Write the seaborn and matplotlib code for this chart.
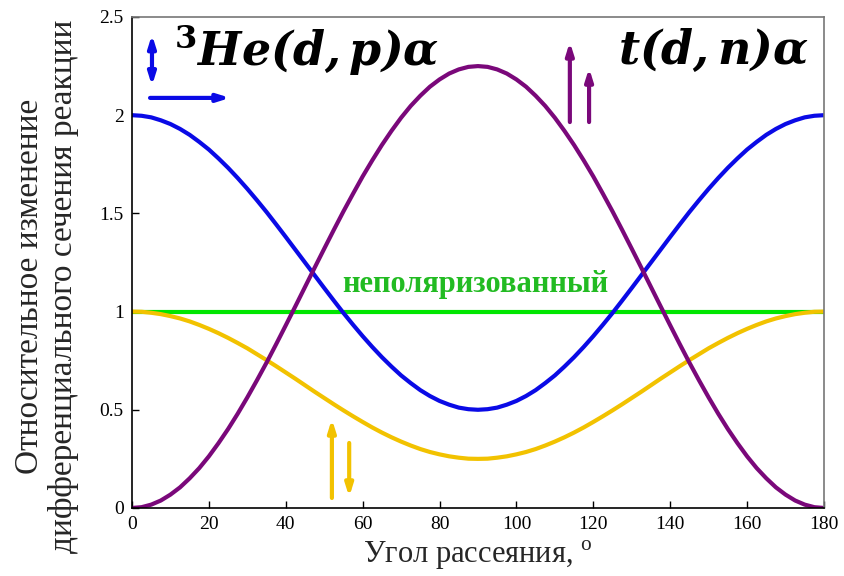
import numpy as np
import pandas as pd
import matplotlib
matplotlib.use("Agg")
import matplotlib.pyplot as plt
import seaborn as sns

angle = [0, 2.5, 5, 7.5, 10, 12.5, 15, 17.5, 20, 22.5, 25, 27.5, 30, 32.5, 35, 37.5, 40, 42.5,
         45, 47.5, 50, 52.5, 55, 57.5, 60, 62.5, 65, 67.5, 70, 72.5, 75, 77.5, 80, 82.5, 85, 87.5,
         90, 92.5, 95, 97.5, 100, 102.5, 105, 107.5, 110, 112.5, 115, 117.5, 120, 122.5, 125, 127.5,
         130, 132.5, 135, 137.5, 140, 142.5, 145, 147.5, 150, 152.5, 155, 157.5, 160, 162.5, 165,
         167.5, 170, 172.5, 175, 177.5, 180]
he3_transverse = [2.000, 1.997, 1.989, 1.974, 1.955, 1.930, 1.900, 1.864, 1.825, 1.780, 1.732, 1.680,
                  1.625, 1.567, 1.507, 1.444, 1.380, 1.315, 1.250, 1.185, 1.120, 1.056, 0.993, 0.933,
                  0.875, 0.820, 0.768, 0.720, 0.675, 0.636, 0.600, 0.570, 0.545, 0.526, 0.511, 0.503,
                  0.500,
                  0.503, 0.511, 0.526, 0.545, 0.570, 0.600, 0.636, 0.675, 0.720, 0.768, 0.820, 0.875,
                  0.933, 0.993, 1.056, 1.120, 1.185, 1.250, 1.315, 1.380, 1.444, 1.507, 1.567, 1.625,
                  1.680, 1.732, 1.780, 1.825, 1.864, 1.900, 1.930, 1.955, 1.974, 1.989, 1.997, 2.000]
t_parallel = [0.000, 0.004, 0.017, 0.038, 0.068, 0.105, 0.151, 0.203, 0.263, 0.330, 0.402, 0.480,
              0.563, 0.650, 0.740, 0.834, 0.930, 1.027, 1.125, 1.223, 1.320, 1.416, 1.510, 1.600,
              1.688, 1.770, 1.848, 1.920, 1.987, 2.047, 2.099, 2.145, 2.182, 2.212, 2.233, 2.246,
              2.250,
              2.246, 2.233, 2.212, 2.182, 2.145, 2.099, 2.047, 1.987, 1.920, 1.848, 1.770, 1.688,
              1.600, 1.510, 1.416, 1.320, 1.223, 1.125, 1.027, 0.930, 0.834, 0.740, 0.650, 0.563,
              0.480, 0.402, 0.330, 0.263, 0.203, 0.151, 0.105, 0.068, 0.038, 0.017, 0.004, 0.000]
antiparallel = [1.000, 0.999, 0.994, 0.987, 0.977, 0.965, 0.950, 0.932, 0.912, 0.890, 0.866, 0.840,
                0.813, 0.783, 0.753, 0.722, 0.690, 0.658, 0.625, 0.592, 0.560, 0.528, 0.497, 0.467,
                0.438, 0.410, 0.384, 0.360, 0.338, 0.318, 0.300, 0.285, 0.273, 0.263, 0.256, 0.251,
                0.250,
                0.251, 0.256, 0.263, 0.273, 0.285, 0.300, 0.318, 0.338, 0.360, 0.384, 0.410, 0.438,
                0.467, 0.497, 0.528, 0.560, 0.592, 0.625, 0.658, 0.690, 0.722, 0.753, 0.783, 0.813,
                0.840, 0.866, 0.890, 0.912, 0.932, 0.950, 0.965, 0.977, 0.987, 0.994, 0.999, 1.000]
unpolarized = [1.0] * len(angle)

series_names = ["unpolarized", "antiparallel", "he3", "t"]
series_colors = {"unpolarized": "#00e600", "antiparallel": "#f2c200",
                 "he3": "#0a0ae6", "t": "#7a087a"}

xticks = [0, 20, 40, 60, 80, 100, 120, 140, 160, 180]
yticks = [0, 0.5, 1, 1.5, 2, 2.5]
ytick_labels = ["0", "0.5", "1", "1.5", "2", "2.5"]

df = pd.DataFrame({
    "angle": angle * 4,
    "value": unpolarized + antiparallel + he3_transverse + t_parallel,
    "series": sum([[s] * len(angle) for s in series_names], []),
})

sns.set_style("ticks")
plt.rcParams["font.family"] = ["Liberation Serif", "DejaVu Serif"]
plt.rcParams["mathtext.fontset"] = "dejavuserif"

fig = plt.figure(figsize=(8.45, 5.76), dpi=100)
ax = fig.add_axes([0.1562, 0.1181, 0.8189, 0.8524])

sns.lineplot(data=df, x="angle", y="value", hue="series", hue_order=series_names,
             palette=series_colors, linewidth=3, legend=False, ax=ax, sort=False)

ax.set_xlim(0, 180)
ax.set_ylim(0, 2.5)
ax.set_xticks(xticks)
ax.set_xticklabels([str(v) for v in xticks])
ax.set_yticks(yticks)
ax.set_yticklabels(ytick_labels)
ax.tick_params(direction="in", length=5, width=1, labelsize=14, colors="black", pad=6)
for side in ["top", "right"]:
    ax.spines[side].set_color("#777777")
for side in ["left", "bottom"]:
    ax.spines[side].set_color("black")
for s in ax.spines.values():
    s.set_linewidth(1.2)

ax.set_xlabel("Угол рассеяния, $^{\\mathregular{o}}$", fontsize=22, labelpad=4)
ax.set_ylabel("Относительное изменение\nдифференциального сечения реакции",
              fontsize=24, linespacing=1.15)
ax.yaxis.set_label_coords(-0.076, 0.452)

ax.text(11, 2.33, r"$^{\mathbf{3}}\mathbfit{He(d,p)\alpha}$", fontsize=33,
        color="black", ha="left", va="center")
ax.text(176, 2.33, r"$\mathbfit{t(d,n)\alpha}$", fontsize=33,
        color="black", ha="right", va="center")
ax.text(89.2, 1.14, "неполяризованный", fontsize=22, fontweight="bold",
        color="#22bb22", ha="center", va="center")

def arrow(x0, y0, x1, y1, color, both=False):
    style = "<|-|>" if both else "-|>"
    ax.annotate("", xy=(x1, y1), xytext=(x0, y0),
                arrowprops=dict(arrowstyle=style + ",head_length=0.7,head_width=0.22",
                                color=color, lw=3, shrinkA=0, shrinkB=0))

blue = series_colors["he3"]
arrow(5.2, 2.15, 5.2, 2.41, blue, both=True)
arrow(4.7, 2.088, 25.5, 2.088, blue)
purple = series_colors["t"]
arrow(113.9, 1.965, 113.9, 2.373, purple)
arrow(118.9, 1.965, 118.9, 2.24, purple)
yellow = series_colors["antiparallel"]
arrow(52.0, 0.051, 52.0, 0.453, yellow)
arrow(56.5, 0.331, 56.5, 0.056, yellow)

fig.savefig("out.png", dpi=100)
